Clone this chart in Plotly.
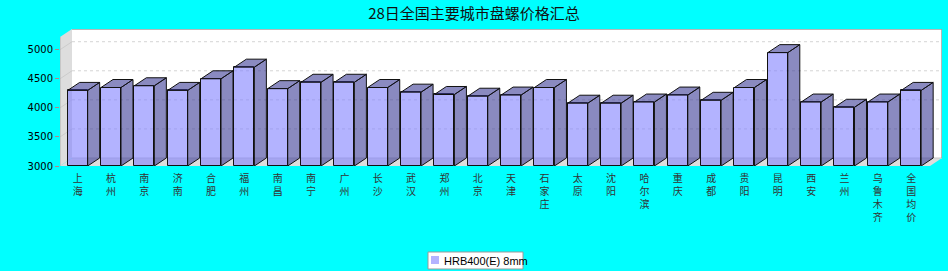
import plotly.graph_objects as go

# ---------------- data ----------------
title_text = "28日全国主要城市盘螺价格汇总"
series_name = "HRB400(E) 8mm"
cities = ["上海", "杭州", "南京", "济南", "合肥", "福州", "南昌", "南宁", "广州", "长沙",
          "武汉", "郑州", "北京", "天津", "石家庄", "太原", "沈阳", "哈尔滨", "重庆", "成都",
          "贵阳", "昆明", "西安", "兰州", "乌鲁木齐", "全国均价"]
prices = [4300, 4350, 4380, 4300, 4500, 4700, 4330, 4440, 4440, 4350,
          4270, 4230, 4200, 4220, 4350, 4080, 4080, 4100, 4220, 4130,
          4350, 4950, 4100, 4010, 4100, 4300]
y_ticks = [3000, 3500, 4000, 4500, 5000]

# ---------------- geometry / style ----------------
W, H = 948, 271
ML, MR, MT, MB = 60, 6, 29, 105
plot_w = W - ML - MR          # 882 px
plot_h = H - MT - MB          # 137 px
px_per_cat = 33.34
units_per_px = 17.2
depth_px_x, depth_px_y = 12, 8

x0 = -0.53
x1 = x0 + plot_w / px_per_cat
y0 = y_ticks[0]
y1 = y0 + plot_h * units_per_px
dx = depth_px_x / px_per_cat
dy = depth_px_y * units_per_px
bw = 0.6
hb = bw / 2

BG = "#00FFFF"
FRONT = "rgba(128,128,255,0.6)"
SIDE = "rgba(60,60,150,0.6)"
WALL = "#DDDDDD"


def px_x(p):
    return (p - ML) / plot_w


def px_y(p):
    return (MT + plot_h - p) / plot_h


xs = list(range(len(cities)))
ticktext = ["<br>".join(list(c)) for c in cities]

fig = go.Figure()

# front faces
fig.add_trace(go.Bar(
    x=xs, y=[p - y0 for p in prices], base=y0, width=bw,
    marker=dict(color=FRONT, line=dict(color="#111111", width=1)),
    name=series_name, showlegend=False,
))

# side faces
sx, sy = [], []
for i, p in zip(xs, prices):
    sx += [i + hb, i + hb + dx, i + hb + dx, i + hb, i + hb, None]
    sy += [y0, y0 + dy, p + dy, p, y0, None]
fig.add_trace(go.Scatter(x=sx, y=sy, mode="lines", fill="toself", fillcolor=SIDE,
                         line=dict(color="#111111", width=1), showlegend=False,
                         hoverinfo="skip"))
# top faces
tx, ty = [], []
for i, p in zip(xs, prices):
    tx += [i - hb, i + hb, i + hb + dx, i - hb + dx, i - hb, None]
    ty += [p, p, p + dy, p + dy, p, None]
fig.add_trace(go.Scatter(x=tx, y=ty, mode="lines", fill="toself", fillcolor=SIDE,
                         line=dict(color="#111111", width=1), showlegend=False,
                         hoverinfo="skip"))

shapes = []
# back wall
shapes.append(dict(type="rect", xref="x", yref="y", x0=x0 + dx, x1=x1, y0=y0 + dy, y1=y1,
                   fillcolor="white", line=dict(width=0), layer="below"))
# left wall
shapes.append(dict(type="path", xref="x", yref="y",
                   path=f"M {x0},{y0} L {x0},{y1 - dy} L {x0 + dx},{y1} L {x0 + dx},{y0 + dy} Z",
                   fillcolor=WALL, line=dict(width=0), layer="below"))
# floor
shapes.append(dict(type="path", xref="x", yref="y",
                   path=f"M {x0},{y0} L {x1 - dx},{y0} L {x1},{y0 + dy} L {x0 + dx},{y0 + dy} Z",
                   fillcolor=WALL, line=dict(width=0), layer="below"))
# gridlines on back wall
for t in y_ticks[1:]:
    shapes.append(dict(type="line", xref="x", yref="y", x0=x0 + dx, x1=x1, y0=t + dy, y1=t + dy,
                       line=dict(color="#D4D4D4", width=1, dash="3px,3px"), layer="below"))
    shapes.append(dict(type="line", xref="x", yref="y", x0=x0, x1=x0 + dx, y0=t, y1=t + dy,
                       line=dict(color="#CCCCCC", width=1), layer="below"))
# back wall bottom edge
shapes.append(dict(type="line", xref="x", yref="y", x0=x0 + dx, x1=x1, y0=y0 + dy, y1=y0 + dy,
                   line=dict(color="#C8C8C8", width=1), layer="below"))
# back wall top/right border
shapes.append(dict(type="path", xref="x", yref="y",
                   path=f"M {x0 + dx},{y1} L {x1},{y1} L {x1},{y0 + dy}",
                   line=dict(color="#A0A0A0", width=1.5), layer="below"))
# left wall front edge
shapes.append(dict(type="line", xref="x", yref="y", x0=x0, x1=x0, y0=y0, y1=y1 - dy,
                   line=dict(color="#B0B0B0", width=1), layer="below"))

# legend box (drawn manually for compact JFreeChart-like look)
shapes.append(dict(type="rect", xref="paper", yref="paper",
                   x0=px_x(428), x1=px_x(523), y0=px_y(269), y1=px_y(252),
                   fillcolor="white", line=dict(color="#999999", width=1)))
shapes.append(dict(type="rect", xref="paper", yref="paper",
                   x0=px_x(431), x1=px_x(439), y0=px_y(264), y1=px_y(256),
                   fillcolor="#B3B3FF", line=dict(width=0)))

annotations = [dict(text=series_name, xref="paper", yref="paper",
                    x=px_x(442), y=px_y(260.5), xanchor="left", yanchor="middle",
                    showarrow=False,
                    font=dict(family="Liberation Sans", size=11, color="#000000"))]

fig.update_layout(
    width=W, height=H,
    margin=dict(l=ML, r=MR, t=MT, b=MB, pad=0),
    paper_bgcolor=BG, plot_bgcolor=BG,
    shapes=shapes,
    annotations=annotations,
    title=dict(text=title_text, x=0.5, xref="container", xanchor="center",
               y=1 - 14 / H, yref="container", yanchor="middle",
               font=dict(family="Noto Sans CJK SC", size=15, color="#111111")),
    xaxis=dict(range=[x0, x1], tickmode="array", tickvals=xs, ticktext=ticktext,
               showgrid=False, zeroline=False, showline=False, ticks="",
               ticklabelstandoff=5,
               tickfont=dict(family="Noto Sans CJK SC", size=10, color="#333333"),
               fixedrange=True),
    yaxis=dict(range=[y0, y1], tickmode="array", tickvals=y_ticks,
               ticktext=[str(t) for t in y_ticks],
               showgrid=False, zeroline=False, showline=False,
               ticks="outside", ticklen=4, tickcolor="#C08080", tickwidth=1,
               tickfont=dict(family="DejaVu Sans", size=10, color="#000000"),
               fixedrange=True),
    showlegend=False,
    bargap=0,
)

fig.write_html("out.html")
